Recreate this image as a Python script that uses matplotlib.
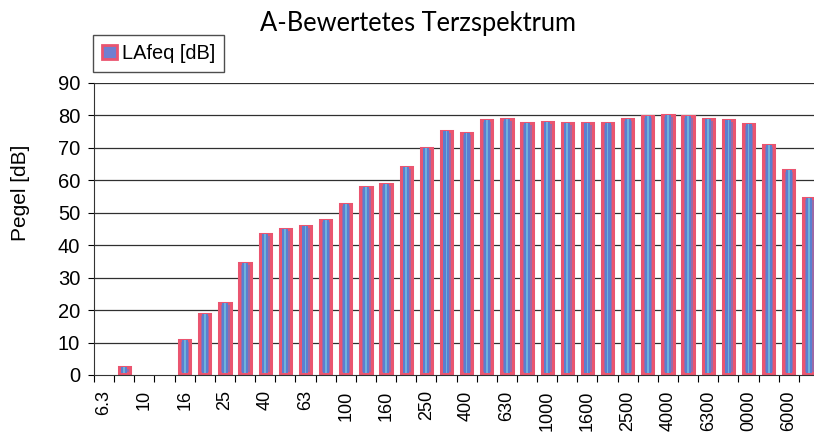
import matplotlib
matplotlib.use("Agg")
import matplotlib.pyplot as plt
from matplotlib.patches import Patch
import numpy as np

bands = ["6.3", "8", "10", "12.5", "16", "20", "25", "31.5", "40", "50", "63", "80",
         "100", "125", "160", "200", "250", "315", "400", "500", "630", "800", "1000",
         "1250", "1600", "2000", "2500", "3150", "4000", "5000", "6300", "8000",
         "10000", "12500", "16000", "20000"]
levels = [None, 2.0, None, None, 10.3, 18.2, 21.7, 34.0, 43.0, 44.4, 45.2, 47.2,
          52.0, 57.3, 58.4, 63.4, 69.5, 74.6, 74.0, 78.1, 78.4, 77.0, 77.5,
          77.1, 77.1, 77.1, 78.4, 79.2, 79.6, 79.2, 78.3, 77.9,
          76.8, 70.4, 62.7, 53.9]
tick_labels = ["6.3", "10", "16", "25", "40", "63", "100", "160", "250", "400", "630",
               "1000", "1600", "2500", "4000", "6300", "0000", "6000"]
title = "A-Bewertetes Terzspektrum"
series_name = "LAfeq [dB]"
ylabel = "Pegel [dB]"

plt.rcParams['font.family'] = ['Liberation Sans', 'DejaVu Sans']

fig = plt.figure(figsize=(8.14, 4.32), dpi=100)
W, H = 814, 432
left_px, right_px, bottom_px, top_px = 94, 94 + 36 * 20.14, 375, 83
ax = fig.add_axes([left_px / W, 1 - bottom_px / H,
                   (right_px - left_px) / W, (bottom_px - top_px) / H])

x = np.arange(len(bands))
idx = [i for i, v in enumerate(levels) if v is not None]
vals = [levels[i] for i in idx]

# grid
for yv in range(10, 100, 10):
    ax.axhline(yv, color='#303030', lw=0.9, zorder=0)

ax.bar(idx, vals, width=0.56, bottom=0.6, color='#9a6aa8', edgecolor='#ea5570',
       linewidth=2.2, zorder=2)
ax.bar(idx, vals, width=0.30, bottom=0.6, color='#5a7fd0', linewidth=0, zorder=3)
ax.bar(idx, vals, width=0.09, bottom=0.6, color='#6fb2dc', linewidth=0, zorder=4)

ax.set_xlim(-0.5, len(bands) - 0.5)
ax.set_ylim(0, 90)
ax.set_yticks(range(0, 100, 10))
ax.tick_params(axis='y', labelsize=14.5, length=4, width=0.8, direction='out', pad=6)

ax.set_xticks(np.arange(-0.5, len(bands), 1), minor=True)
ax.set_xticks(x[::2])
ax.set_xticklabels(tick_labels, rotation=90, fontsize=13)
ax.tick_params(axis='x', which='major', length=0, pad=11)
ax.tick_params(axis='x', which='minor', length=5, width=0.8, direction='out')

for s in ['top', 'right']:
    ax.spines[s].set_visible(False)
ax.spines['left'].set_color('#333333')
ax.spines['bottom'].set_color('#333333')

fig.text(418 / W, 1 - 23 / H, title, ha='center', va='center', fontsize=18.4,
         family=['Lato', 'DejaVu Sans'])
fig.text(21 / W, 1 - 193 / H, ylabel, rotation=90, ha='center', va='center', fontsize=15)

handle = Patch(facecolor='#6f7fd0', edgecolor='#ea5570', linewidth=2)
leg = fig.legend([handle], [series_name], loc='upper left',
                 bbox_to_anchor=(93 / W, 1 - 35 / H), fontsize=14.4, frameon=True,
                 fancybox=False, handlelength=0.75, handleheight=0.75, handletextpad=0.25,
                 borderpad=0.45, borderaxespad=0)
leg.get_frame().set_edgecolor('#222222')
leg.get_frame().set_linewidth(1.0)

fig.savefig('out.png', dpi=100)
